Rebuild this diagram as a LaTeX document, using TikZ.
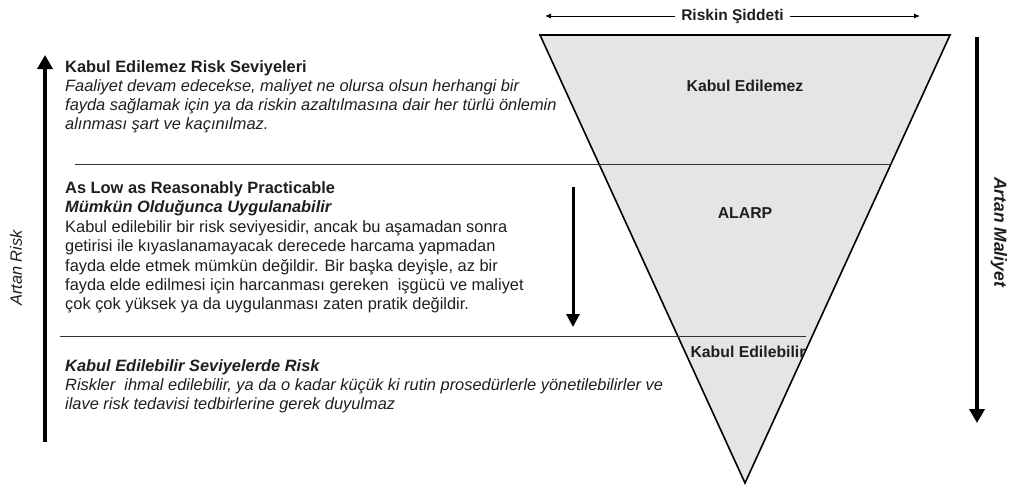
\documentclass[tikz,border=0pt]{standalone}
\usepackage{fontspec}
\setmainfont{Liberation Sans}
\usetikzlibrary{arrows.meta}
\definecolor{zonegray}{HTML}{E5E5E5}
\definecolor{ink}{HTML}{1E1E1E}
\begin{document}
\begin{tikzpicture}[x=1pt,y=-1pt,
  txt/.style={anchor=base west,inner sep=0pt,text=ink,font=\fontsize{16.4}{19}\selectfont},
  hd/.style={txt,font=\fontsize{16.4}{19}\selectfont\bfseries},
  hdit/.style={txt,font=\fontsize{16.4}{19}\selectfont\bfseries\itshape},
  it/.style={txt,font=\fontsize{16.4}{19}\selectfont\itshape},
  zone/.style={inner sep=0pt,text=ink,font=\fontsize{15.8}{19}\selectfont\bfseries},
  sep/.style={draw=black!80,line width=1pt},
  bigarrow/.style={line width=4pt,-{Triangle[width=15pt,length=14pt]}},
  midarrow/.style={line width=3pt,-{Triangle[width=13pt,length=13pt]}}]
\useasboundingbox (0,0) rectangle (1014,487);

% inverted triangle of risk zones
\coordinate (tl) at (540,35);
\coordinate (tr) at (950,35);
\coordinate (ap) at (745,483);
\filldraw[fill=zonegray,draw=black,line width=1.6pt,line join=miter] (tl) -- (tr) -- (ap) -- cycle;

% zone separators
\coordinate (s1a) at (75,164);
\coordinate (s1b) at (891,164);
\coordinate (s2a) at (60,336);
\coordinate (s2b) at (806,336);
\draw[sep] (s1a) -- (s1b);
\draw[sep] (s2a) -- (s2b);

% severity axis
\coordinate (sevL) at (545,16);
\coordinate (sevR) at (920,16);
\draw[line width=0.9pt,{Latex[width=5pt,length=6pt]}-{Latex[width=5pt,length=6pt]}] (sevL) -- (sevR)
  node[midway,fill=white,inner sep=6pt,text=ink,font=\fontsize{15.5}{18}\selectfont\bfseries] (sev) {Riskin Şiddeti};

% zone labels
\node[zone] (z1) at (745,86) {Kabul Edilemez};
\node[zone] (z2) at (745,213) {ALARP};
\node[zone] (z3) at (748,352) {Kabul Edilebilir};

% vertical axes
\coordinate (rlo) at (45,442);
\coordinate (rhi) at (45,55);
\draw[bigarrow] (rlo) -- (rhi);
\node[rotate=90,text=ink,font=\fontsize{16.4}{19}\selectfont\itshape] (ar) at (16,268) {Artan Risk};

\coordinate (mhi) at (977,37);
\coordinate (mlo) at (977,423);
\draw[bigarrow] (mhi) -- (mlo);
\node[rotate=-90,text=ink,font=\fontsize{17.5}{19}\selectfont\bfseries\itshape] (am) at (999,232) {Artan Maliyet};

\coordinate (ahi) at (573,187);
\coordinate (alo) at (573,327);
\draw[midarrow] (ahi) -- (alo);

% unacceptable level
\node[hd] (t1) at (65,73) {Kabul Edilemez Risk Seviyeleri};
\node[it] (t2) at (65,92) {Faaliyet devam edecekse, maliyet ne olursa olsun herhangi bir};
\node[it] (t3) at (65,110.5) {fayda sağlamak için ya da riskin azaltılmasına dair her türlü önlemin};
\node[it] (t4) at (65,129) {alınması şart ve kaçınılmaz.};

% ALARP level
\node[hd] (a1) at (65,193) {As Low as Reasonably Practicable};
\node[hdit] (a2) at (65,212) {Mümkün Olduğunca Uygulanabilir};
\node[txt] (a3) at (65,232) {Kabul edilebilir bir risk seviyesidir, ancak bu aşamadan sonra};
\node[txt] (a4) at (65,251.5) {getirisi ile kıyaslanamayacak derecede harcama yapmadan};
\node[txt] (a5) at (65,271) {fayda elde etmek mümkün değildir. Bir başka deyişle, az bir};
\node[txt] (a6) at (65,290) {fayda elde edilmesi için harcanması gereken\ \ işgücü ve maliyet};
\node[txt] (a7) at (65,309) {çok çok yüksek ya da uygulanması zaten pratik değildir.};

% acceptable level
\node[hdit] (b1) at (65,371) {Kabul Edilebilir Seviyelerde Risk};
\node[it] (b2) at (65,390) {Riskler\ \ ihmal edilebilir, ya da o kadar küçük ki rutin prosedürlerle yönetilebilirler ve};
\node[it] (b3) at (65,409) {ilave risk tedavisi tedbirlerine gerek duyulmaz};
\end{tikzpicture}
\end{document}
